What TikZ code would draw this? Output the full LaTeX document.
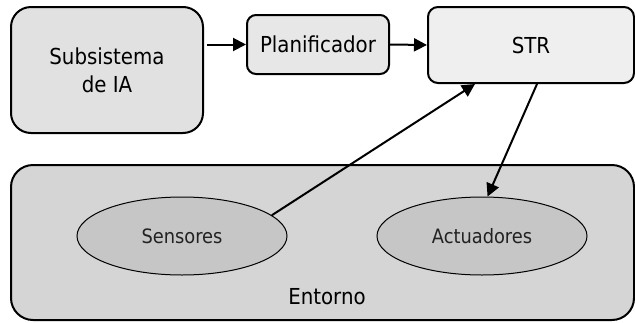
\documentclass[tikz,border=0pt]{standalone}
\usepackage{fontspec}
\setmainfont{DejaVu Sans Condensed}
\usetikzlibrary{shapes.geometric,arrows.meta}
\definecolor{subfill}{HTML}{E1E1E1}
\definecolor{planfill}{HTML}{E7E7E7}
\definecolor{strfill}{HTML}{EFEFEF}
\definecolor{entfill}{HTML}{D5D5D5}
\definecolor{elfill}{HTML}{C6C6C6}
\definecolor{eltext}{HTML}{222222}
\tikzset{
  box/.style={draw=black, line width=2pt, inner sep=0pt, align=center,
              font=\fontsize{22}{28}\selectfont},
  oval/.style={ellipse, draw=black, line width=1pt, fill=elfill, inner sep=0pt,
               minimum width=210pt, minimum height=78pt, text=eltext,
               font=\fontsize{19.8}{24}\selectfont},
  arr/.style={line width=2pt, -{Triangle[length=13pt,width=13pt]}},
  lbl/.style={inner sep=0pt, font=\fontsize{22}{28}\selectfont}
}
\begin{document}
\begin{tikzpicture}[x=1pt,y=-1pt]
\useasboundingbox (0,0) rectangle (635,322);
% Entorno
\node[box, fill=entfill, rounded corners=22pt, minimum width=623pt, minimum height=155pt] (ent) at (322.5,242.5) {};
\node[lbl] (entlbl) at (327,297) {Entorno};
\node[oval] (sens) at (182,236) {Sensores};
\node[oval] (act) at (482,236) {Actuadores};
% top boxes
\node[box, fill=subfill, rounded corners=20pt, minimum width=192pt, minimum height=126pt] (sub) at (107,70) {Subsistema\\de IA};
\node[box, fill=planfill, rounded corners=9pt, minimum width=142pt, minimum height=59pt] (plan) at (318,44.5) {Planificador};
\node[box, fill=strfill, rounded corners=10pt, minimum width=206pt, minimum height=76pt] (str) at (531,45) {STR};
% arrows
\draw[arr] ([xshift=3pt]sub.east |- plan.west) -- (plan.west);
\draw[arr] (plan.east) -- (str.west);
\draw[arr] (sens.13) -- ([xshift=-56pt]str.south);
\draw[arr] ([xshift=6pt]str.south) -- (act.82);
\end{tikzpicture}
\end{document}
